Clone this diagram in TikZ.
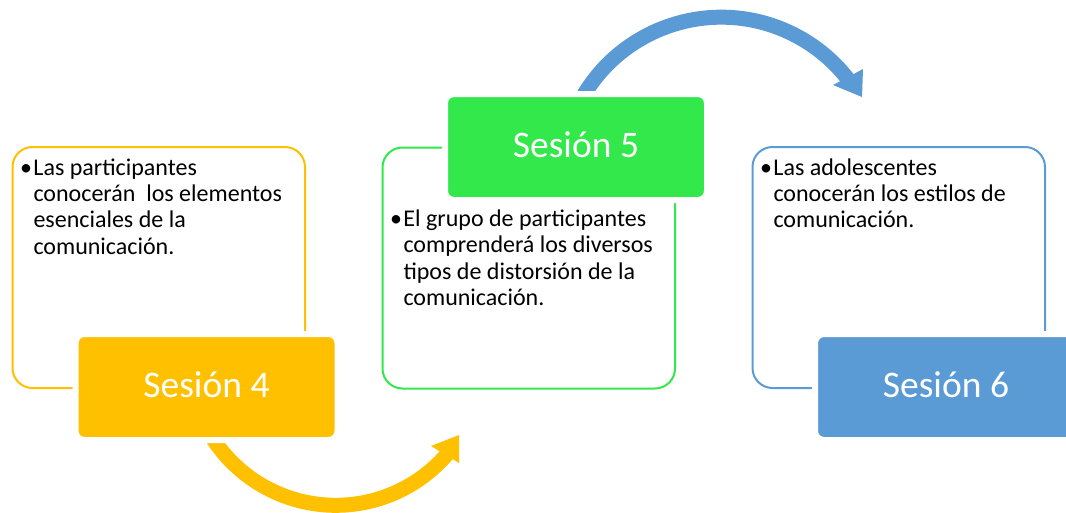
\documentclass[tikz,border=0pt]{standalone}
\usepackage{fontspec}
\setmainfont{Carlito}
\definecolor{sYellow}{HTML}{FFC000}
\definecolor{sGreen}{HTML}{33E84A}
\definecolor{sBlue}{HTML}{5B9BD5}
\begin{document}
\begin{tikzpicture}[x=1pt,y=1pt,
  outline/.style={draw, line width=2pt, rounded corners=20pt, minimum width=292.5pt,
    minimum height=241pt, inner sep=0pt, anchor=north west},
  titlebox/.style={draw=white, line width=6pt, rounded corners=9pt, minimum width=262pt,
    minimum height=106pt, inner sep=0pt, text=white, text height=21pt, text depth=0pt,
    font=\fontsize{37.5}{45}\selectfont},
  body/.style={anchor=base west, align=left, inner sep=0pt, font=\fontsize{24}{26.4}\selectfont},
  band/.style={line width=15pt}]
\useasboundingbox (0,0) rectangle (1066,-512);
% outline boxes
\node[outline, draw=sYellow] (o4) at (11.5,-146) {};
\node[outline, draw=sGreen] (o5) at (381.5,-146.5) {};
\node[outline, draw=sBlue] (o6) at (751.5,-146) {};
% curved arrows (bands)
\coordinate (yc) at (335.8,-358.6);
\coordinate (bc) at (721.3,-177.7);
\draw[band, sYellow] (yc) ++(205:146.7) arc[start angle=205, end angle=320, radius=146.7];
\draw[band, sBlue] (bc) ++(152:160.5) arc[start angle=152, end angle=36.5, radius=160.5];
\fill[sYellow] (431,-446) -- (459,-435) -- (459,-463) -- cycle;
\fill[sBlue] (833,-85) -- (863,-69) -- (862,-97) -- cycle;
% title boxes
\node[titlebox, fill=sYellow] (s4) at (206.5,-387) {Sesión 4};
\node[titlebox, fill=sGreen] (s5) at (576,-147) {Sesión 5};
\node[titlebox, fill=sBlue] (s6) at (946,-387) {Sesión 6};
% body texts (anchored at the baseline of their last line)
\node[body] (t4) at (33.3,-254.3) {\llap{•\hspace{1.5pt}}Las participantes\\conocerán\ \ los elementos\\esenciales de la\\comunicación.};
\node[body] (t5) at (403.3,-305.6) {\llap{•\hspace{1.5pt}}El grupo de participantes\\comprenderá los diversos\\tipos de distorsión de la\\comunicación.};
\node[body] (t6) at (773.3,-227.8) {\llap{•\hspace{1.5pt}}Las adolescentes\\conocerán los estilos de\\comunicación.};
\end{tikzpicture}
\end{document}
